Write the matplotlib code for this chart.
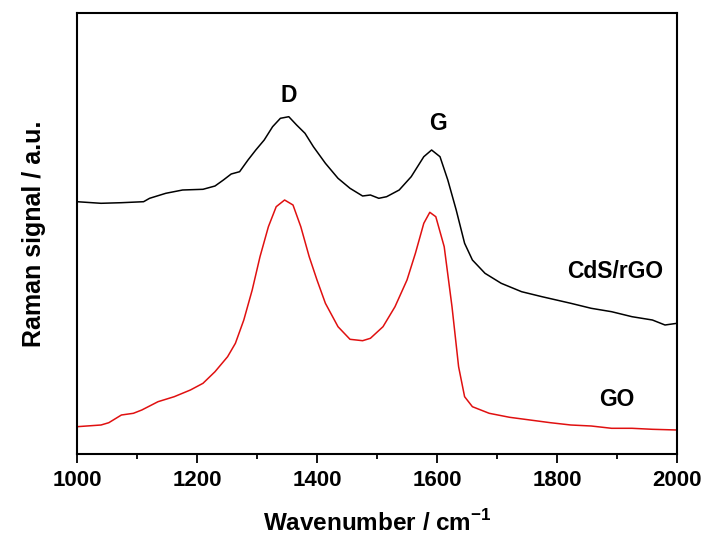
import matplotlib
matplotlib.use("Agg")
import matplotlib.pyplot as plt
from matplotlib.ticker import MultipleLocator, NullLocator

plt.rcParams['font.family'] = ['Liberation Sans', 'DejaVu Sans']
plt.rcParams['font.weight'] = 'bold'
plt.rcParams['mathtext.fontset'] = 'custom'
plt.rcParams['mathtext.rm'] = 'Liberation Sans:bold'
plt.rcParams['mathtext.bf'] = 'Liberation Sans:bold'

# CdS/rGO spectrum (wavenumber, intensity a.u.)
cds_x = [1000, 1040, 1074, 1111, 1121, 1148, 1176, 1210, 1230, 1244, 1257, 1271,
         1285, 1298, 1312, 1326, 1339, 1353, 1366, 1380, 1394, 1414, 1435, 1455,
         1476, 1489, 1503, 1516, 1537, 1557, 1578, 1591, 1605, 1618, 1632, 1646,
         1659, 1680, 1707, 1741, 1775, 1823, 1857, 1891, 1925, 1959, 1980, 2000]
cds_y = [252.3, 250.7, 251.3, 252.3, 255.7, 260.7, 264.0, 264.7, 268.0, 274.0, 280.0, 282.3,
         294.0, 304.0, 314.0, 327.3, 335.7, 337.3, 329.0, 320.7, 307.3, 290.7, 275.7, 265.7,
         258.0, 259.0, 255.7, 257.3, 264.0, 277.3, 297.3, 304.0, 297.3, 274.0, 244.0, 210.7,
         194.0, 180.7, 170.7, 162.3, 157.3, 150.7, 145.7, 142.3, 137.3, 134.0, 129.0, 130.7]

# GO spectrum (wavenumber, intensity a.u.)
go_x = [1000, 1040, 1053, 1074, 1094, 1108, 1135, 1162, 1189, 1210, 1230, 1251,
        1264, 1278, 1292, 1305, 1319, 1332, 1346, 1360, 1373, 1387, 1400, 1414,
        1435, 1455, 1476, 1489, 1510, 1530, 1550, 1564, 1578, 1588, 1598, 1612,
        1625, 1636, 1646, 1659, 1687, 1721, 1755, 1789, 1823, 1857, 1891, 1925,
        1959, 2000]
go_y = [27.3, 29.0, 31.3, 39.0, 40.7, 44.0, 52.3, 57.3, 64.0, 70.7, 82.3, 97.3,
        110.7, 134.0, 164.0, 197.3, 227.3, 247.3, 254.0, 249.0, 227.3, 197.3, 174.0, 150.7,
        127.3, 114.7, 113.3, 115.7, 127.3, 147.3, 174.0, 200.7, 230.7, 241.7, 237.3, 207.3,
        147.3, 87.3, 57.3, 47.3, 40.7, 36.7, 34.0, 31.3, 29.0, 28.0, 25.7, 25.7,
        24.7, 24.0]

# annotations: (text, x, y)
labels_text = ["D", "G", "CdS/rGO", "GO"]
labels_x = [1353, 1601, 1897, 1900]
labels_y = [359, 331, 182, 55]

fig = plt.figure(figsize=(7.07, 5.38), dpi=100)
ax = fig.add_axes([77/707, 1-454/538, 600/707, 441/538])

ax.plot(cds_x, cds_y, color='black', lw=1.1)
ax.plot(go_x, go_y, color='#e01010', lw=1.1)

for t, x, y in zip(labels_text, labels_x, labels_y):
    ax.text(x, y, t, ha='center', va='center', fontsize=16.5, fontweight='bold')

ax.set_xlim(1000, 2000)
ax.set_ylim(0, 441)
ax.xaxis.set_major_locator(MultipleLocator(200))
ax.xaxis.set_minor_locator(MultipleLocator(100))
ax.yaxis.set_major_locator(NullLocator())
ax.tick_params(axis='x', which='major', direction='out', length=6.5, width=1.3,
               labelsize=16, pad=5)
ax.tick_params(axis='x', which='minor', direction='out', length=3.6, width=1.3)
for lab in ax.get_xticklabels():
    lab.set_fontweight('bold')
for s in ax.spines.values():
    s.set_linewidth(1.5)

ax.set_xlabel(r"Wavenumber / cm$^{-1}$", fontsize=17.5, fontweight='bold', labelpad=14)
ax.set_ylabel("Raman signal / a.u.", fontsize=18, fontweight='bold', labelpad=22)

fig.savefig("out.png", dpi=100)
